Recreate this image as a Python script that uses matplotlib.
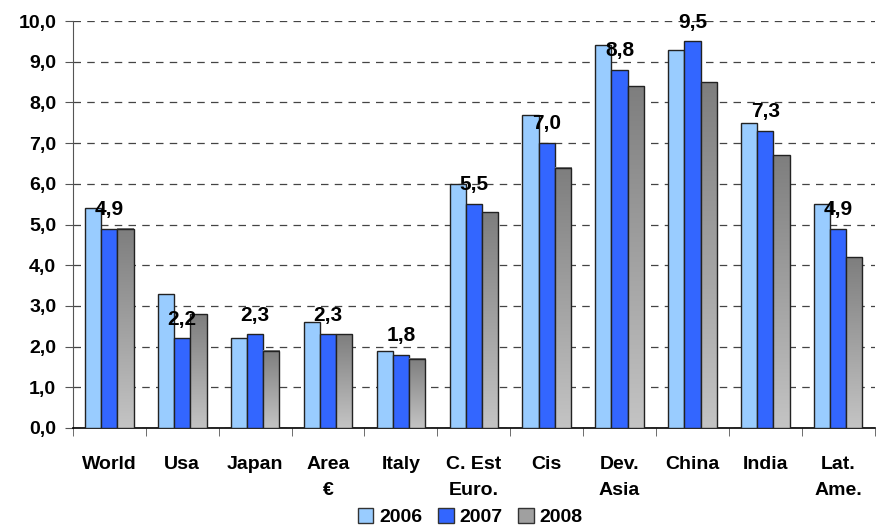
import numpy as np
import matplotlib
matplotlib.use("Agg")
import matplotlib.pyplot as plt
from matplotlib.colors import LinearSegmentedColormap
from matplotlib.patches import Patch
from matplotlib.ticker import FuncFormatter, MultipleLocator

plt.rcParams["font.family"] = ["Liberation Sans", "DejaVu Sans"]
plt.rcParams["font.weight"] = "bold"

# growth rates by area, %
categories = ["World", "Usa", "Japan", "Area\n€", "Italy", "C. Est\nEuro.",
              "Cis", "Dev.\nAsia", "China", "India", "Lat.\nAme."]
years = ["2006", "2007", "2008"]
g2006 = [5.4, 3.3, 2.2, 2.6, 1.9, 6.0, 7.7, 9.4, 9.3, 7.5, 5.5]
g2007 = [4.9, 2.2, 2.3, 2.3, 1.8, 5.5, 7.0, 8.8, 9.5, 7.3, 4.9]
g2008 = [4.9, 2.8, 1.9, 2.3, 1.7, 5.3, 6.4, 8.4, 8.5, 6.7, 4.2]

c2006 = "#99CCFF"
c2007 = "#3366FF"
gray_cmap = LinearSegmentedColormap.from_list("grey_fade", ["#C4C4C4", "#7E7E7E"])

fig = plt.figure(figsize=(8.79, 5.27), dpi=100)
ax = fig.add_axes([0.083, 0.188, 0.912, 0.772])

x = np.arange(len(categories))
w = 0.222
edge = dict(edgecolor="#222222", linewidth=1.0)

ax.bar(x - w, g2006, w, color=c2006, zorder=3, **edge)
ax.bar(x, g2007, w, color=c2007, zorder=3, **edge)

# 2008 bars: vertical fade, dark at the top
grad = np.linspace(0, 1, 256).reshape(-1, 1)
for xi, v in zip(x, g2008):
    ax.imshow(grad, extent=[xi + w / 2, xi + 1.5 * w, 0, v], origin="lower",
              aspect="auto", cmap=gray_cmap, zorder=3)
ax.bar(x + w, g2008, w, fill=False, zorder=4, **edge)

# value labels for 2007
for xi, v in zip(x, g2007):
    ax.annotate(f"{v:.1f}".replace(".", ","), (xi, v), xytext=(0, 7),
                textcoords="offset points", ha="center", va="bottom",
                fontsize=15, fontweight="bold", zorder=5)

ax.set_xlim(-0.5, len(categories) - 0.5)
ax.set_ylim(0, 10)
ax.yaxis.set_major_locator(MultipleLocator(1))
ax.yaxis.set_major_formatter(FuncFormatter(lambda v, _: f"{v:.1f}".replace(".", ",")))
ax.yaxis.grid(True, linestyle=(0, (6, 5)), color="#444444", linewidth=0.9, zorder=0)
ax.set_axisbelow(True)

ax.set_xticks(x)
ax.set_xticklabels(categories, fontsize=14, fontweight="bold", va="top", linespacing=1.75)
ax.tick_params(axis="x", length=0, pad=20)
ax.set_xticks(np.arange(-0.5, len(categories)), minor=True)
ax.tick_params(axis="x", which="minor", length=6, direction="out", color="#555555")
ax.tick_params(axis="y", length=6, direction="out", color="#555555", labelsize=14, pad=6)
for lab in ax.get_yticklabels():
    lab.set_fontweight("bold")

for side in ("top", "right"):
    ax.spines[side].set_visible(False)
ax.spines["left"].set_color("#555555")
ax.spines["bottom"].set_color("#000000")
ax.spines["bottom"].set_linewidth(1.2)

handles = [Patch(facecolor=c2006, edgecolor="#333333"),
           Patch(facecolor=c2007, edgecolor="#333333"),
           Patch(facecolor="#A0A0A0", edgecolor="#333333")]
fig.legend(handles, years, loc="lower center", bbox_to_anchor=(0.535, -0.032),
           ncol=3, frameon=False, prop={"size": 14, "weight": "bold"},
           handlelength=0.8, handleheight=0.8, handletextpad=0.3, columnspacing=0.8)

fig.savefig("out.png", dpi=100)
